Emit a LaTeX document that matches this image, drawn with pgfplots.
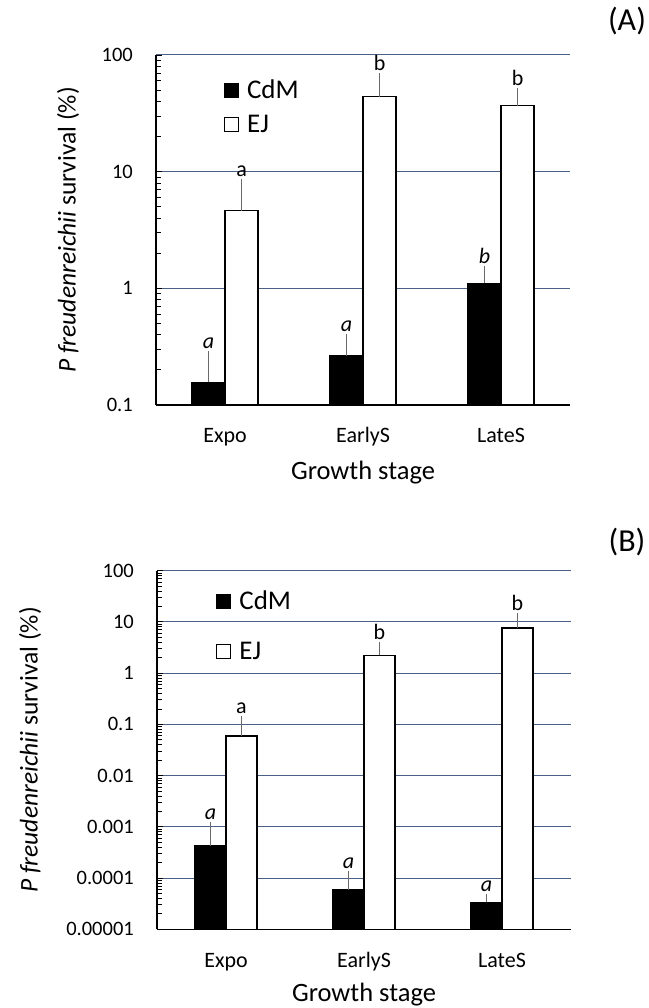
\documentclass[border=0pt]{standalone}
\usepackage{fontspec}
\setmainfont{Carlito}
\usepackage{pgfplots}
\pgfplotsset{compat=1.18}

\definecolor{gridblue}{RGB}{74,96,134}
\definecolor{errgray}{RGB}{105,105,105}

\tikzset{lab/.style={anchor=base, inner sep=0pt, yshift=5.5bp,
    font=\fontsize{22bp}{26bp}\selectfont}}

\begin{document}
\begin{tikzpicture}
\path[use as bounding box] (0bp,0bp) rectangle (649bp,1008bp);

% (A)
\begin{axis}[
    at={(156bp,603bp)}, anchor=south west,
    scale only axis, width=414bp, height=350bp,
    ybar=0pt, bar width=33bp,
    ymode=log, log origin y=infty,
    ymin=0.1, ymax=100,
    xmin=-0.5, xmax=2.5,
    clip=false,
    axis x line*=bottom, axis y line*=left,
    axis line style={black, line width=1.2bp},
    tick align=inside,
    xtick={0,1,2}, xticklabels={Expo,EarlyS,LateS},
    x tick style={draw=none},
    extra x ticks={-0.5,0.5,1.5,2.5}, extra x tick labels={},
    extra x tick style={tick align=outside, major tick length=7bp, grid=none},
    y tick style={black, line width=0.9bp},
    major tick length=6bp, minor tick length=5bp,
    ytick={0.1,1,10,100}, yticklabels={0.1,1,10,100},
    minor ytick={0.2,0.3,0.4,0.5,0.6,0.7,0.8,0.9,2,3,4,5,6,7,8,9,20,30,40,50,60,70,80,90},
    ymajorgrids,
    major grid style={gridblue, line width=1bp},
    xticklabel style={anchor=base, inner sep=0pt, yshift=-38bp,
      font=\fontsize{22bp}{26bp}\selectfont},
    yticklabel style={anchor=east, inner sep=0pt, xshift=-23bp,
      font=\fontsize{20.5bp}{24bp}\selectfont},
    xlabel={Growth stage},
    xlabel style={at={(axis description cs:0.5,0)}, anchor=base, inner sep=0pt,
      yshift=-75bp, font=\fontsize{26.5bp}{30bp}\selectfont},
    ylabel={\textit{P freudenreichii} survival (\%)},
    ylabel style={at={(axis description cs:0,0.5)}, anchor=center, inner sep=0pt,
      yshift=88bp, font=\fontsize{25.5bp}{30bp}\selectfont},
    legend style={draw=none, fill=none, anchor=north west, inner sep=0pt,
      at={(rel axis cs:0.164,0.926)}, row sep=17bp,
      font=\fontsize{27bp}{30bp}\selectfont,
      nodes={inner sep=0pt, text height=17bp, text depth=0bp},
      /tikz/every odd column/.append style={column sep=8bp}},
    legend cell align=left,
  ]
  \addplot[fill=black, draw=black, line width=1.1bp,
    legend image code/.code={\draw[fill=black, draw=black, line width=1bp] (0bp,-7.5bp) rectangle (14bp,6.5bp);},
    error bars/.cd, y dir=plus, y explicit,
    error bar style={errgray, line width=1bp},
    error mark options={errgray, line width=1bp, mark size=3bp}]
    coordinates {
    (0,0.156) +- (0,0.117)
    (1,0.264) +- (0,0.122)
    (2,1.10)  +- (0,0.36)
  };
  \addlegendentry{CdM}
  \addplot[fill=white, draw=black, line width=1.1bp,
    legend image code/.code={\draw[fill=white, draw=black, line width=1bp] (0bp,-7.5bp) rectangle (14bp,6.5bp);},
    error bars/.cd, y dir=plus, y explicit,
    error bar style={errgray, line width=1bp},
    error mark options={errgray, line width=1bp, mark size=3bp}]
    coordinates {
    (0,4.64) +- (0,3.52)
    (1,44.0) +- (0,21.7)
    (2,36.7) +- (0,12.2)
  };
  \addlegendentry{EJ}
  \node[lab] at (axis cs:-0.12,0.273) {\textit{a}};
  \node[lab] at (axis cs:0.12,8.16) {a};
  \node[lab] at (axis cs:0.88,0.386) {\textit{a}};
  \node[lab] at (axis cs:1.12,65.7) {b};
  \node[lab] at (axis cs:1.88,1.46) {\textit{b}};
  \node[lab] at (axis cs:2.12,48.9) {b};
\end{axis}
\node[font=\fontsize{32bp}{36bp}\selectfont] at (627bp,987bp) {(A)};

% (B)
\begin{axis}[
    at={(157bp,78.7bp)}, anchor=south west,
    scale only axis, width=414bp, height=358.6bp,
    ybar=0pt, bar width=31bp,
    ymode=log, log origin y=infty,
    ymin=0.00001, ymax=100,
    xmin=-0.5, xmax=2.5,
    clip=false,
    axis x line*=bottom, axis y line*=left,
    axis line style={black, line width=1.2bp},
    tick align=inside,
    xtick={0,1,2}, xticklabels={Expo,EarlyS,LateS},
    x tick style={draw=none},
    extra x ticks={-0.5,0.5,1.5,2.5}, extra x tick labels={},
    extra x tick style={tick align=outside, major tick length=7bp, grid=none},
    y tick style={black, line width=0.9bp},
    major tick length=6bp, minor tick length=5bp,
    ytick={0.00001,0.0001,0.001,0.01,0.1,1,10,100},
    yticklabels={0.00001,0.0001,0.001,0.01,0.1,1,10,100},
    minor ytick={2e-5,3e-5,4e-5,5e-5,6e-5,7e-5,8e-5,9e-5,
      2e-4,3e-4,4e-4,5e-4,6e-4,7e-4,8e-4,9e-4,
      0.002,0.003,0.004,0.005,0.006,0.007,0.008,0.009,
      0.02,0.03,0.04,0.05,0.06,0.07,0.08,0.09,
      0.2,0.3,0.4,0.5,0.6,0.7,0.8,0.9,2,3,4,5,6,7,8,9,20,30,40,50,60,70,80,90},
    ymajorgrids,
    major grid style={gridblue, line width=1bp},
    xticklabel style={anchor=base, inner sep=0pt, yshift=-38bp,
      font=\fontsize{22bp}{26bp}\selectfont},
    yticklabel style={anchor=east, inner sep=0pt, xshift=-23bp,
      font=\fontsize{20.5bp}{24bp}\selectfont},
    xlabel={Growth stage},
    xlabel style={at={(axis description cs:0.5,0)}, anchor=base, inner sep=0pt,
      yshift=-72bp, font=\fontsize{26.5bp}{30bp}\selectfont},
    ylabel={\textit{P freudenreichii} survival (\%)},
    ylabel style={at={(axis description cs:0,0.5)}, anchor=center, inner sep=0pt,
      yshift=127bp, font=\fontsize{25.5bp}{30bp}\selectfont},
    legend style={draw=none, fill=none, anchor=north west, inner sep=0pt,
      at={(rel axis cs:0.143,0.94)}, row sep=33bp,
      font=\fontsize{27bp}{30bp}\selectfont,
      nodes={inner sep=0pt, text height=17bp, text depth=0bp},
      /tikz/every odd column/.append style={column sep=8bp}},
    legend cell align=left,
  ]
  \addplot[fill=black, draw=black, line width=1.1bp,
    legend image code/.code={\draw[fill=black, draw=black, line width=1bp] (0bp,-7.5bp) rectangle (14bp,6.5bp);},
    error bars/.cd, y dir=plus, y explicit,
    error bar style={errgray, line width=1bp},
    error mark options={errgray, line width=1bp, mark size=3bp}]
    coordinates {
    (0,4.23e-4) +- (0,6.8e-4)
    (1,5.85e-5) +- (0,6.2e-5)
    (2,3.36e-5) +- (0,1.0e-5)
  };
  \addlegendentry{CdM}
  \addplot[fill=white, draw=black, line width=1.1bp,
    legend image code/.code={\draw[fill=white, draw=black, line width=1bp] (0bp,-7.5bp) rectangle (14bp,6.5bp);},
    error bars/.cd, y dir=plus, y explicit,
    error bar style={errgray, line width=1bp},
    error mark options={errgray, line width=1bp, mark size=3bp}]
    coordinates {
    (0,0.0593) +- (0,0.066)
    (1,2.22)   +- (0,1.32)
    (2,7.6)    +- (0,5.4)
  };
  \addlegendentry{EJ}
  \node[lab] at (axis cs:-0.112,1.10e-3) {\textit{a}};
  \node[lab] at (axis cs:0.112,0.125) {a};
  \node[lab] at (axis cs:0.888,1.2e-4) {\textit{a}};
  \node[lab] at (axis cs:1.112,3.54) {b};
  \node[lab] at (axis cs:1.888,4.34e-5) {\textit{a}};
  \node[lab] at (axis cs:2.112,13.0) {b};
\end{axis}
\node[font=\fontsize{32bp}{36bp}\selectfont] at (627bp,466bp) {(B)};
\end{tikzpicture}
\end{document}
